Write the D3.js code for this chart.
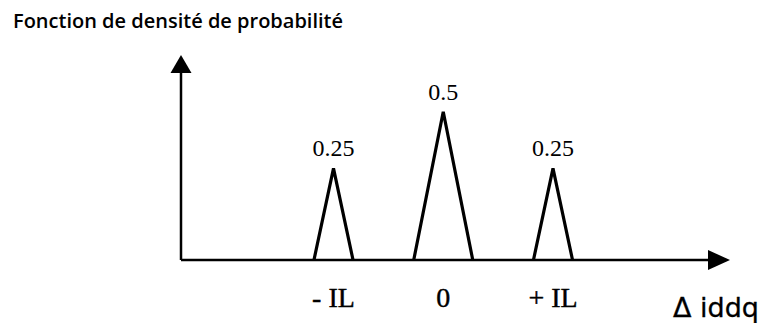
<!DOCTYPE html>
<html>
<head>
<meta charset="utf-8">
<script src="https://cdn.jsdelivr.net/npm/d3@7"></script>
<style>
  html, body { margin: 0; padding: 0; background: #fff; }
  svg { display: block; }
</style>
</head>
<body>
<svg id="chart" width="766" height="323"></svg>
<script>
// Peak locations (in units of IL), their labels and probabilities
const categories = ["- IL", "0", "+ IL"];
const positions = [-1, 0, 1];
const probabilities = [0.25, 0.5, 0.25];
const halfWidths = [0.178, 0.269, 0.178];
const valueLabels = ["0.25", "0.5", "0.25"];

const peaks = categories.map((c, i) => ({
  label: c,
  pos: positions[i],
  p: probabilities[i],
  hw: halfWidths[i],
  valueLabel: valueLabels[i]
}));

const svg = d3.select("#chart");
const ink = "#000";

// Layout
const originX = 181, baselineY = 260;
const xAxisEnd = 730, yAxisTop = 55;

const x = d3.scaleLinear().domain([-1, 1]).range([333.5, 553]);
const y = d3.scaleLinear().domain([0.25, 0.5]).range([168.3, 111.7]);

// Title
svg.append("text")
  .attr("x", 13).attr("y", 28)
  .attr("font-family", "'Open Sans', 'Noto Sans', sans-serif")
  .attr("font-weight", 600)
  .attr("font-size", 20)
  .attr("fill", ink)
  .text("Fonction de densité de probabilité");

// Axes with arrow heads
svg.append("line")
  .attr("x1", originX).attr("y1", baselineY)
  .attr("x2", originX).attr("y2", yAxisTop + 16)
  .attr("stroke", ink).attr("stroke-width", 2.5);
svg.append("path")
  .attr("d", `M${originX},${yAxisTop} L${originX - 10.5},${yAxisTop + 18} L${originX + 10.5},${yAxisTop + 18} Z`)
  .attr("fill", ink);

svg.append("line")
  .attr("x1", originX).attr("y1", baselineY)
  .attr("x2", xAxisEnd - 20).attr("y2", baselineY)
  .attr("stroke", ink).attr("stroke-width", 2.5);
svg.append("path")
  .attr("d", `M${xAxisEnd},${baselineY} L${xAxisEnd - 22},${baselineY - 10} L${xAxisEnd - 22},${baselineY + 10} Z`)
  .attr("fill", ink);

// Triangular density peaks
const tri = d => {
  const pts = [
    [x(d.pos - d.hw), baselineY],
    [x(d.pos), y(d.p)],
    [x(d.pos + d.hw), baselineY]
  ];
  return d3.line()(pts);
};
svg.selectAll("path.peak")
  .data(peaks).join("path")
  .attr("class", "peak")
  .attr("d", tri)
  .attr("fill", "none")
  .attr("stroke", ink)
  .attr("stroke-width", 3.2)
  .attr("stroke-linejoin", "miter");

// Probability labels above each peak
svg.selectAll("text.val")
  .data(peaks).join("text")
  .attr("class", "val")
  .attr("x", d => x(d.pos))
  .attr("y", d => y(d.p) - 12)
  .attr("text-anchor", "middle")
  .attr("font-family", "'Liberation Serif', 'Times New Roman', serif")
  .attr("font-size", 24)
  .attr("fill", ink)
  .text(d => d.valueLabel);

// Tick labels along the horizontal axis
svg.selectAll("text.tick")
  .data(peaks).join("text")
  .attr("class", "tick")
  .attr("x", d => x(d.pos))
  .attr("y", 307)
  .attr("text-anchor", "middle")
  .attr("font-family", "'Liberation Serif', 'Times New Roman', serif")
  .attr("font-size", 28)
  .attr("fill", ink)
  .attr("stroke", ink)
  .attr("stroke-width", 0.4)
  .text(d => d.label);

// Horizontal axis title
svg.append("text")
  .attr("x", 673).attr("y", 317)
  .attr("font-family", "'DejaVu Sans', sans-serif")
  .attr("font-size", 27)
  .attr("fill", ink)
  .attr("stroke", ink)
  .attr("stroke-width", 0.3)
  .text("Δ iddq");
</script>
</body>
</html>
